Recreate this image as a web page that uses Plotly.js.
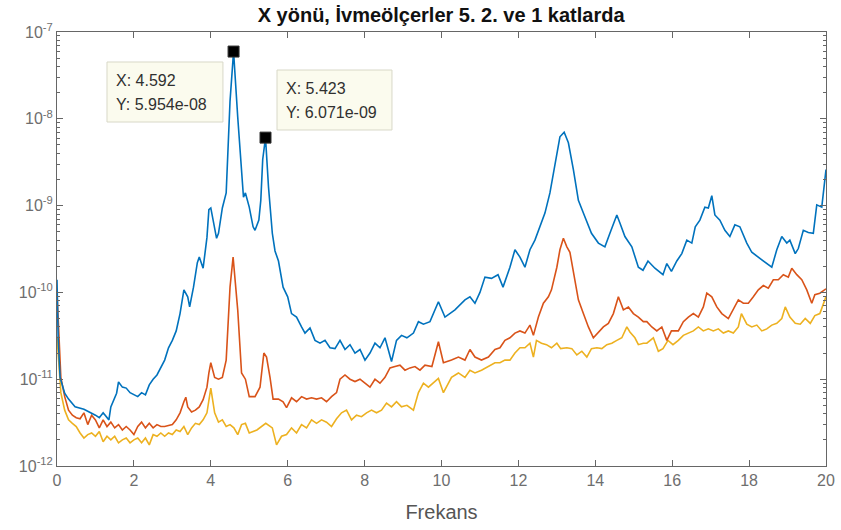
<!DOCTYPE html>
<html>
<head>
<meta charset="utf-8">
<script src="https://cdn.plot.ly/plotly-3.0.1.min.js"></script>
<style>html,body{margin:0;padding:0;background:#fff;}#chart{width:841px;height:530px;}</style>
</head>
<body>
<div id="chart"></div>
<script>
// ---- Data ----
const titleText = "X yönü, İvmeölçerler 5. 2. ve 1 katlarda";
const xLabel = "Frekans";
const xTicks = [0, 2, 4, 6, 8, 10, 12, 14, 16, 18, 20];
const yTicks = [1e-12, 1e-11, 1e-10, 1e-9, 1e-8, 1e-7];
const yTickText = ["10<sup>-12</sup>", "10<sup>-11</sup>", "10<sup>-10</sup>", "10<sup>-9</sup>", "10<sup>-8</sup>", "10<sup>-7</sup>"];

// Series 1 (5. kat) - blue
const freqBlue = [0, 0.03, 0.08, 0.2, 0.3, 0.47, 0.7, 0.85, 1.0, 1.1, 1.2, 1.35, 1.4, 1.55, 1.6, 1.7, 1.8, 1.9, 2.0, 2.1, 2.2, 2.3, 2.4, 2.5, 2.6, 2.7, 2.8, 2.9, 3.0, 3.1, 3.2, 3.3, 3.4, 3.45, 3.55, 3.65, 3.7, 3.8, 3.85, 3.9, 3.95, 4.0, 4.15, 4.2, 4.3, 4.4, 4.5, 4.592, 4.7, 4.8, 4.85, 4.9, 5.0, 5.1, 5.15, 5.25, 5.3, 5.35, 5.423, 5.5, 5.6, 5.67, 5.76, 5.88, 6.0, 6.1, 6.23, 6.36, 6.45, 6.58, 6.71, 6.84, 6.97, 7.1, 7.23, 7.36, 7.49, 7.62, 7.75, 7.88, 8.01, 8.14, 8.27, 8.4, 8.53, 8.7, 8.83, 8.96, 9.1, 9.27, 9.4, 9.53, 9.7, 9.92, 10.09, 10.35, 10.61, 10.74, 10.87, 11.0, 11.13, 11.3, 11.47, 11.6, 11.78, 11.91, 12.04, 12.17, 12.3, 12.43, 12.56, 12.69, 12.82, 12.95, 13.08, 13.19, 13.3, 13.43, 13.56, 13.69, 13.82, 13.9, 14.08, 14.25, 14.38, 14.56, 14.64, 14.77, 14.95, 15.12, 15.24, 15.37, 15.55, 15.76, 15.86, 15.98, 16.12, 16.25, 16.38, 16.51, 16.6, 16.72, 16.85, 16.94, 17.03, 17.11, 17.24, 17.37, 17.5, 17.63, 17.76, 17.94, 18.07, 18.24, 18.46, 18.59, 18.72, 18.85, 18.98, 19.06, 19.2, 19.28, 19.41, 19.54, 19.67, 19.76, 19.89, 19.97, 20.0];
const blue = [1.4e-10, 3e-11, 1.05e-11, 6.9e-12, 5.9e-12, 4.8e-12, 4.5e-12, 4.2e-12, 3.85e-12, 3.6e-12, 4.1e-12, 3.4e-12, 4.8e-12, 6.9e-12, 9.3e-12, 8.1e-12, 7.9e-12, 7e-12, 6.6e-12, 6.3e-12, 7e-12, 6.6e-12, 8.6e-12, 1e-11, 1.12e-11, 1.35e-11, 1.66e-11, 2.3e-11, 2.8e-11, 3.6e-11, 5.7e-11, 1.07e-10, 8.9e-11, 6.8e-11, 1.15e-10, 2.2e-10, 2.55e-10, 1.9e-10, 2.8e-10, 4.3e-10, 9e-10, 9.4e-10, 4.2e-10, 4.8e-10, 9.4e-10, 1.4e-9, 1.6e-8, 5.954e-8, 1.05e-8, 2.1e-9, 1.25e-9, 1.4e-9, 9.6e-10, 5.7e-10, 5.2e-10, 6.8e-10, 1.15e-9, 3.4e-9, 6.071e-9, 1.65e-9, 4.8e-10, 3e-10, 2.3e-10, 1.15e-10, 8.9e-11, 5.7e-11, 5.2e-11, 4e-11, 3.4e-11, 3.9e-11, 2.8e-11, 2.6e-11, 2.8e-11, 2.3e-11, 2.25e-11, 2.8e-11, 2.2e-11, 2.5e-11, 2e-11, 2.2e-11, 1.66e-11, 2e-11, 2.6e-11, 2.3e-11, 3e-11, 1.6e-11, 2.8e-11, 3.2e-11, 3e-11, 3.4e-11, 4.6e-11, 4.3e-11, 4.6e-11, 7.8e-11, 5.2e-11, 6.3e-11, 8.2e-11, 8.9e-11, 7.5e-11, 1e-10, 1.5e-10, 1.45e-10, 1.6e-10, 1.15e-10, 1.95e-10, 3.1e-10, 2.55e-10, 1.95e-10, 3.1e-10, 4e-10, 5.7e-10, 8.2e-10, 1.4e-9, 2.8e-9, 6.2e-9, 7e-9, 5.3e-9, 2.6e-9, 1.15e-9, 8.2e-10, 5.7e-10, 4.8e-10, 3.7e-10, 3.35e-10, 4.8e-10, 7.8e-10, 6.3e-10, 4.4e-10, 3.35e-10, 1.95e-10, 1.8e-10, 2.3e-10, 1.9e-10, 1.6e-10, 2.15e-10, 1.75e-10, 2.3e-10, 2.8e-10, 4e-10, 3.7e-10, 5.7e-10, 6.8e-10, 9.6e-10, 9.4e-10, 1.3e-9, 7.8e-10, 6.8e-10, 5.2e-10, 4.4e-10, 6e-10, 5.7e-10, 3.7e-10, 2.9e-10, 2.55e-10, 2.15e-10, 1.95e-10, 3.1e-10, 4.4e-10, 3.7e-10, 4e-10, 2.8e-10, 3.2e-10, 5.2e-10, 4.9e-10, 4.8e-10, 1.02e-9, 9.6e-10, 2.1e-9, 2.6e-9];

// Series 2 (2. kat) - orange
const freqOrange = [0, 0.05, 0.1, 0.2, 0.3, 0.4, 0.5, 0.6, 0.7, 0.8, 0.9, 1.0, 1.1, 1.2, 1.3, 1.4, 1.5, 1.6, 1.7, 1.8, 1.9, 2.0, 2.1, 2.2, 2.3, 2.4, 2.5, 2.6, 2.7, 2.8, 2.9, 3.0, 3.1, 3.2, 3.3, 3.35, 3.4, 3.5, 3.6, 3.7, 3.8, 3.9, 3.95, 4.0, 4.1, 4.2, 4.3, 4.4, 4.5, 4.58, 4.7, 4.8, 4.9, 5.0, 5.15, 5.28, 5.38, 5.45, 5.54, 5.62, 5.76, 5.88, 5.97, 6.1, 6.23, 6.36, 6.49, 6.62, 6.75, 6.88, 7.01, 7.14, 7.27, 7.36, 7.49, 7.62, 7.75, 7.88, 8.01, 8.14, 8.27, 8.4, 8.53, 8.66, 8.79, 8.92, 9.05, 9.18, 9.31, 9.44, 9.57, 9.75, 9.92, 10.05, 10.26, 10.44, 10.61, 10.74, 10.87, 11.04, 11.22, 11.39, 11.52, 11.65, 11.78, 11.91, 12.04, 12.17, 12.3, 12.39, 12.52, 12.65, 12.78, 12.86, 13.0, 13.08, 13.17, 13.26, 13.34, 13.43, 13.56, 13.69, 13.82, 13.95, 14.08, 14.21, 14.34, 14.47, 14.6, 14.73, 14.86, 14.99, 15.12, 15.25, 15.34, 15.47, 15.6, 15.73, 15.86, 15.98, 16.16, 16.29, 16.42, 16.55, 16.68, 16.81, 16.9, 17.03, 17.16, 17.29, 17.46, 17.59, 17.72, 17.85, 17.98, 18.11, 18.24, 18.37, 18.5, 18.63, 18.76, 18.89, 19.02, 19.11, 19.24, 19.37, 19.5, 19.63, 19.71, 19.84, 19.97, 20.0];
const orange = [1e-10, 2.6e-11, 1.05e-11, 6.3e-12, 4.4e-12, 3.85e-12, 3.6e-12, 3.5e-12, 4.1e-12, 3e-12, 3.85e-12, 3.4e-12, 2.75e-12, 3.4e-12, 2.85e-12, 3.2e-12, 2.75e-12, 3e-12, 2.6e-12, 2.85e-12, 2.6e-12, 2.3e-12, 2.85e-12, 3.2e-12, 2.75e-12, 3.1e-12, 2.75e-12, 3e-12, 2.85e-12, 2.85e-12, 2.9e-12, 3e-12, 3.4e-12, 4.1e-12, 5.5e-12, 6.2e-12, 4.8e-12, 4.2e-12, 4.4e-12, 4.8e-12, 5.8e-12, 8.1e-12, 1.18e-11, 1.55e-11, 1.05e-11, 1e-11, 1.05e-11, 1.66e-11, 1.15e-10, 2.55e-10, 6.3e-11, 1.18e-11, 1e-11, 6.3e-12, 6.3e-12, 8.1e-12, 2e-11, 1.8e-11, 1.05e-11, 5.9e-12, 5.9e-12, 5.5e-12, 4.7e-12, 6.1e-12, 5.5e-12, 6.3e-12, 5.9e-12, 6.1e-12, 5.9e-12, 6.1e-12, 5.5e-12, 6.3e-12, 7e-12, 1e-11, 1.12e-11, 1e-11, 9.4e-12, 1e-11, 9e-12, 8.1e-12, 1e-11, 9e-12, 1.05e-11, 1.35e-11, 1.4e-11, 1.45e-11, 1.27e-11, 1.35e-11, 1.4e-11, 1.27e-11, 1.45e-11, 1.4e-11, 2.7e-11, 1.55e-11, 1.66e-11, 1.8e-11, 1.66e-11, 2.2e-11, 1.8e-11, 1.66e-11, 1.8e-11, 2.2e-11, 2.3e-11, 2.8e-11, 3e-11, 3.4e-11, 3.6e-11, 3.4e-11, 4.2e-11, 3.2e-11, 5.2e-11, 7.5e-11, 8.9e-11, 1.07e-10, 1.95e-10, 3.1e-10, 4.2e-10, 3.35e-10, 2.9e-10, 1.65e-10, 8.2e-11, 5.7e-11, 4e-11, 3e-11, 3.5e-11, 4e-11, 4.4e-11, 5.7e-11, 8.9e-11, 6.3e-11, 6.8e-11, 5.7e-11, 5.2e-11, 4.6e-11, 4.6e-11, 4e-11, 3.6e-11, 4e-11, 2.8e-11, 3.6e-11, 3.6e-11, 4.6e-11, 5.2e-11, 5.7e-11, 5.2e-11, 6.8e-11, 9.8e-11, 8.9e-11, 6.8e-11, 5.7e-11, 5e-11, 6.3e-11, 8.2e-11, 7.5e-11, 7.5e-11, 8.9e-11, 1.07e-10, 1.2e-10, 1.12e-10, 1.4e-10, 1.4e-10, 1.6e-10, 1.5e-10, 1.9e-10, 1.6e-10, 1.4e-10, 1.07e-10, 7.5e-11, 9.4e-11, 9.8e-11, 1.07e-10, 1.1e-10];

// Series 3 (1. kat) - yellow
const freqYellow = [0, 0.05, 0.1, 0.2, 0.3, 0.4, 0.5, 0.6, 0.7, 0.8, 0.9, 1.0, 1.1, 1.2, 1.3, 1.4, 1.5, 1.6, 1.7, 1.8, 1.9, 2.0, 2.1, 2.2, 2.3, 2.4, 2.5, 2.6, 2.7, 2.8, 2.9, 3.0, 3.1, 3.2, 3.3, 3.4, 3.5, 3.6, 3.7, 3.8, 3.9, 4.0, 4.1, 4.2, 4.3, 4.4, 4.5, 4.6, 4.7, 4.8, 4.9, 5.0, 5.2, 5.43, 5.54, 5.6, 5.71, 5.84, 5.97, 6.1, 6.23, 6.36, 6.49, 6.62, 6.75, 6.88, 7.01, 7.14, 7.27, 7.4, 7.53, 7.66, 7.79, 7.92, 8.05, 8.18, 8.31, 8.44, 8.57, 8.7, 8.83, 8.96, 9.1, 9.27, 9.4, 9.53, 9.66, 9.79, 9.92, 10.05, 10.26, 10.44, 10.61, 10.74, 10.87, 11.04, 11.22, 11.39, 11.52, 11.65, 11.78, 11.91, 12.04, 12.17, 12.3, 12.39, 12.47, 12.6, 12.73, 12.86, 13.0, 13.1, 13.26, 13.39, 13.52, 13.65, 13.78, 13.9, 14.04, 14.17, 14.3, 14.43, 14.56, 14.69, 14.82, 14.9, 15.03, 15.12, 15.25, 15.34, 15.51, 15.64, 15.76, 15.89, 16.02, 16.16, 16.29, 16.42, 16.55, 16.68, 16.81, 16.94, 17.07, 17.2, 17.33, 17.46, 17.59, 17.72, 17.8, 17.94, 18.07, 18.2, 18.33, 18.46, 18.59, 18.72, 18.85, 18.94, 19.06, 19.2, 19.33, 19.46, 19.59, 19.71, 19.84, 19.97, 20.0];
const yellow = [3.1e-11, 1.27e-11, 7e-12, 4.4e-12, 3.4e-12, 3.1e-12, 2.85e-12, 2.4e-12, 2.1e-12, 2.3e-12, 2.4e-12, 2.2e-12, 2.5e-12, 1.9e-12, 2.2e-12, 2e-12, 2.2e-12, 1.85e-12, 2e-12, 2.1e-12, 1.85e-12, 2e-12, 2.1e-12, 1.85e-12, 2.1e-12, 1.75e-12, 2.3e-12, 2.2e-12, 2.4e-12, 2.2e-12, 2.4e-12, 2.3e-12, 2.6e-12, 2.5e-12, 2.85e-12, 2.3e-12, 2.75e-12, 3.1e-12, 3e-12, 3.4e-12, 4.1e-12, 7.9e-12, 4.1e-12, 3.2e-12, 3.4e-12, 2.85e-12, 3e-12, 2.75e-12, 2.3e-12, 3e-12, 3.1e-12, 2.4e-12, 2.6e-12, 3.1e-12, 2.85e-12, 2.75e-12, 1.75e-12, 2.2e-12, 2.3e-12, 2.75e-12, 2.4e-12, 3e-12, 2.75e-12, 3.4e-12, 3.1e-12, 3.4e-12, 3.2e-12, 2.85e-12, 3.5e-12, 4.1e-12, 4.4e-12, 3.4e-12, 3.85e-12, 3.7e-12, 4.1e-12, 4.4e-12, 4.1e-12, 4.4e-12, 5.3e-12, 4.8e-12, 5.5e-12, 4.8e-12, 5e-12, 4.4e-12, 7e-12, 9e-12, 8.1e-12, 9e-12, 1.02e-11, 7e-12, 1.05e-11, 1.18e-11, 1.05e-11, 1.27e-11, 1.18e-11, 1.27e-11, 1.4e-11, 1.55e-11, 1.55e-11, 1.66e-11, 1.66e-11, 2e-11, 2.3e-11, 2.3e-11, 2.6e-11, 1.8e-11, 2.8e-11, 2.6e-11, 2.5e-11, 2.3e-11, 2.6e-11, 2.25e-11, 2.3e-11, 2.25e-11, 1.9e-11, 2.1e-11, 1.8e-11, 2.25e-11, 2.3e-11, 2.25e-11, 2.5e-11, 2.6e-11, 2.8e-11, 3e-11, 4e-11, 3.5e-11, 3e-11, 2.5e-11, 2.6e-11, 2.6e-11, 3e-11, 2.1e-11, 2.25e-11, 2.8e-11, 2.5e-11, 2.8e-11, 3.2e-11, 3.4e-11, 3.6e-11, 4e-11, 3.6e-11, 3.8e-11, 3.6e-11, 3.8e-11, 3.4e-11, 3.6e-11, 3.4e-11, 4e-11, 5.7e-11, 4.3e-11, 4e-11, 4.2e-11, 3.6e-11, 3.8e-11, 4.2e-11, 4.4e-11, 5e-11, 6.8e-11, 5.2e-11, 4.4e-11, 4.3e-11, 5e-11, 4.4e-11, 5.4e-11, 5.7e-11, 8.2e-11, 9e-11];

// Data tips
const peakX = [4.592, 5.423];
const peakY = [5.954e-8, 6.071e-9];
const peakXText = ["4.592", "5.423"];
const peakYText = ["5.954e-08", "6.071e-09"];

// ---- Styling ----
const C_BLUE = "#0072BD", C_ORANGE = "#D95319", C_YELLOW = "#EDB120";
const AX = "#666666";
const FONT = "Liberation Sans, Arial, sans-serif";

const traces = [
  {x: freqYellow, y: yellow, type: "scatter", mode: "lines", line: {color: C_YELLOW, width: 1.6}, hoverinfo: "skip"},
  {x: freqOrange, y: orange, type: "scatter", mode: "lines", line: {color: C_ORANGE, width: 1.6}, hoverinfo: "skip"},
  {x: freqBlue, y: blue, type: "scatter", mode: "lines", line: {color: C_BLUE, width: 1.6}, hoverinfo: "skip"},
  {x: peakX, y: peakY, type: "scatter", mode: "markers", marker: {symbol: "square", size: 11, color: "#000", line: {color: "#333", width: 1}}, hoverinfo: "skip", cliponaxis: false}
];

// Data-tip boxes (paper coordinates)
const tipBoxes = [
  {x0: 0.0650, x1: 0.2158, y0: 0.7926, y1: 0.9309},
  {x0: 0.2861, x1: 0.4356, y0: 0.7742, y1: 0.9124}
];
const shapes = tipBoxes.map(b => ({type: "rect", xref: "paper", yref: "paper", x0: b.x0, x1: b.x1, y0: b.y0, y1: b.y1,
  fillcolor: "#fbfbee", line: {color: "#d8d8c8", width: 1}, layer: "above"}));
const annotations = [];
tipBoxes.forEach((b, i) => {
  const lx = b.x0 + 0.0085;
  annotations.push({xref: "paper", yref: "paper", x: lx, y: b.y1 - 0.042, xanchor: "left", yanchor: "middle",
    text: "X: " + peakXText[i], showarrow: false, font: {family: FONT, size: 16, color: "#303030"}});
  annotations.push({xref: "paper", yref: "paper", x: lx, y: b.y1 - 0.097, xanchor: "left", yanchor: "middle",
    text: "Y: " + peakYText[i], showarrow: false, font: {family: FONT, size: 16, color: "#303030"}});
});

const layout = {
  width: 841, height: 530,
  margin: {l: 57, r: 15, t: 32, b: 64, pad: 0},
  paper_bgcolor: "#fff", plot_bgcolor: "#fff",
  showlegend: false,
  title: {text: "<b>" + titleText + "</b>", font: {family: FONT, size: 20, color: "#111"}, x: 0.5245, xanchor: "center", y: 0.972, yanchor: "middle"},
  xaxis: {
    range: [0, 20], tickvals: xTicks, ticktext: xTicks.map(String),
    ticks: "inside", ticklen: 6, tickwidth: 1, tickcolor: AX,
    showline: true, linecolor: AX, linewidth: 1, mirror: "ticks",
    showgrid: false, zeroline: false,
    tickfont: {family: FONT, size: 16, color: "#6e6e6e"},
    title: {text: xLabel, font: {family: FONT, size: 20, color: "#555"}, standoff: 16}
  },
  yaxis: {
    type: "log", range: [-12, -7], tickvals: yTicks, ticktext: yTickText,
    ticks: "inside", ticklen: 6, tickwidth: 1, tickcolor: AX,
    minor: {ticks: "inside", ticklen: 3, tickcolor: AX, dtick: "D1", showgrid: false},
    showline: true, linecolor: AX, linewidth: 1, mirror: "ticks",
    showgrid: false, zeroline: false,
    tickfont: {family: FONT, size: 16, color: "#6e6e6e"}
  },
  shapes: shapes,
  annotations: annotations
};

Plotly.newPlot("chart", traces, layout, {staticPlot: true, displayModeBar: false});
</script>
</body>
</html>
